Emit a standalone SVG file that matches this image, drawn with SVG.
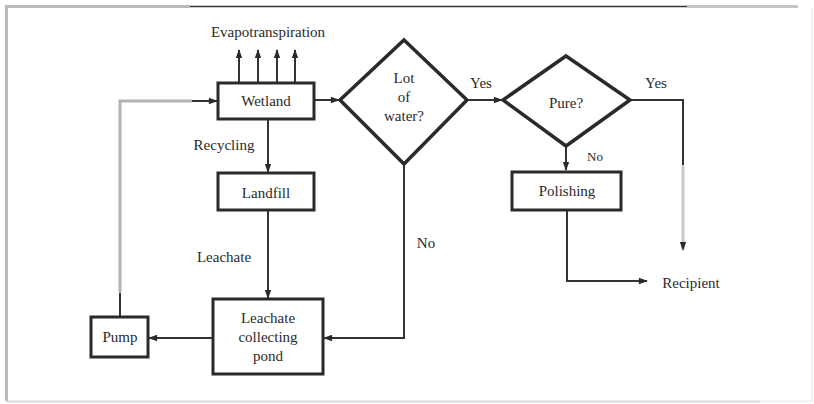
<svg xmlns="http://www.w3.org/2000/svg" width="814" height="404" viewBox="0 0 814 404">
<style>
text{font-family:"Liberation Serif","Times New Roman",serif;font-size:15px;fill:#2a2a2a;text-anchor:middle}
.box{fill:#fff;stroke:#2a2a2a;stroke-width:3}
.dia{fill:#fff;stroke:#2a2a2a;stroke-width:3.5;stroke-linejoin:miter}
.c{fill:none;stroke:#333;stroke-width:2}
.g{fill:none;stroke:#b4b4b4;stroke-width:3}
</style>
<defs>
<marker id="ah" viewBox="0 0 10 10" refX="9" refY="5" markerWidth="10" markerHeight="9" markerUnits="userSpaceOnUse" orient="auto">
<path d="M0,1.5 L10,5 L0,8.5 Z" fill="#2a2a2a"/>
</marker>
</defs>
<rect width="814" height="404" fill="#fff"/>
<g id="frame">
<path d="M6.5,401 V6.5 H190" fill="none" stroke="#bbb" stroke-width="3"/>
<path d="M190,6.5 H687" fill="none" stroke="#333" stroke-width="1.5"/>
<path d="M687,6.5 H798" fill="none" stroke="#c4c4c4" stroke-width="3"/>
<path d="M6.5,401.5 H760" fill="none" stroke="#d8d8d8" stroke-width="2"/>
<path d="M760,401.5 H812 V8" fill="none" stroke="#f0f0f0" stroke-width="2"/>
</g>
<g id="connectors">
<line class="c" x1="239" y1="83" x2="239" y2="50" marker-end="url(#ah)"/>
<line class="c" x1="258" y1="83" x2="258" y2="50" marker-end="url(#ah)"/>
<line class="c" x1="277" y1="83" x2="277" y2="50" marker-end="url(#ah)"/>
<line class="c" x1="295" y1="83" x2="295" y2="50" marker-end="url(#ah)"/>
<path class="g" d="M120,293 V101 H192"/>
<line class="c" x1="120" y1="293" x2="120" y2="317"/>
<line class="c" x1="192" y1="101" x2="217" y2="101" marker-end="url(#ah)"/>
<line class="c" x1="315" y1="100" x2="339" y2="100" marker-end="url(#ah)"/>
<line class="c" x1="268" y1="119" x2="268" y2="172" marker-end="url(#ah)"/>
<line class="c" x1="268" y1="211" x2="268" y2="298" marker-end="url(#ah)" stroke="#666"/>
<line class="c" x1="213" y1="338" x2="149" y2="338" marker-end="url(#ah)"/>
<path class="c" d="M404,164 V338 H324" marker-end="url(#ah)" stroke="#555"/>
<line class="c" x1="467" y1="100" x2="502" y2="100" marker-end="url(#ah)"/>
<path class="c" d="M630,100 H683 V165"/>
<line x1="683" y1="165" x2="683" y2="250" stroke="#c8c8c8" stroke-width="3" marker-end="url(#ah)"/>
<line class="c" x1="566" y1="146" x2="566" y2="170" marker-end="url(#ah)"/>
<path class="c" d="M567,211 V281 H647" marker-end="url(#ah)"/>
</g>
<g id="evap"><text x="268" y="37">Evapotranspiration</text></g>
<g id="wetland"><rect class="box" x="218" y="83" width="96" height="36"/><text x="266" y="106">Wetland</text></g>
<g id="lot"><path class="dia" d="M404,40 L467,100 L404,164 L340,100 Z"/><text x="404" y="83">Lot</text><text x="404" y="102">of</text><text x="404" y="121">water?</text></g>
<g id="yes1"><text x="481" y="88">Yes</text></g>
<g id="pure"><path class="dia" d="M566,56 L630,100 L566,146 L503,100 Z"/><text x="566" y="108">Pure?</text></g>
<g id="yes2"><text x="656" y="88">Yes</text></g>
<g id="no2"><text x="595" y="161" style="font-size:13px">No</text></g>
<g id="polishing"><rect class="box" x="512" y="172" width="109" height="38"/><text x="567" y="196">Polishing</text></g>
<g id="recipient"><text x="691" y="288">Recipient</text></g>
<g id="recycling"><text x="224" y="150">Recycling</text></g>
<g id="landfill"><rect class="box" x="218" y="173" width="96" height="37"/><text x="266" y="198">Landfill</text></g>
<g id="leachate-label"><text x="224" y="262">Leachate</text></g>
<g id="pond"><rect class="box" x="213" y="299" width="110" height="75"/><text x="268" y="323">Leachate</text><text x="268" y="342">collecting</text><text x="268" y="361">pond</text></g>
<g id="pump"><rect class="box" x="91" y="317" width="57" height="40"/><text x="120" y="342">Pump</text></g>
<g id="no1"><text x="426" y="248">No</text></g>
</svg>
